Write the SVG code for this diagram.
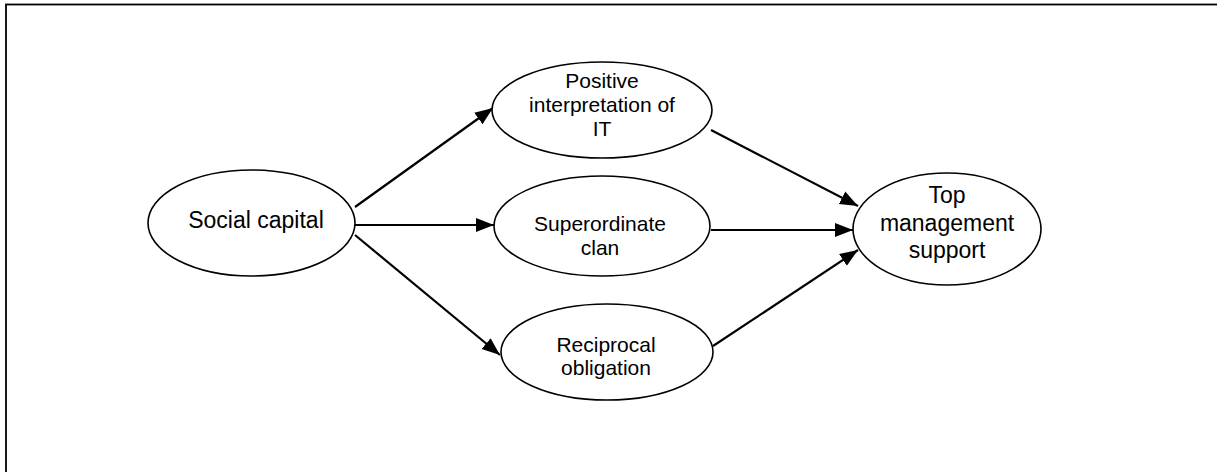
<svg xmlns="http://www.w3.org/2000/svg" width="1217" height="472" viewBox="0 0 1217 472">
<style>
.node ellipse{fill:#fff;stroke:#000;stroke-width:1.6}
.node text{font-family:"Liberation Sans",Arial,sans-serif;fill:#000;text-anchor:middle}
.big{font-size:23px}
.small{font-size:21px}
.conn line{stroke:#000;stroke-width:2.2}
</style>
<defs>
<marker id="arr" markerUnits="userSpaceOnUse" markerWidth="20" markerHeight="16" viewBox="0 0 20 16" refX="18" refY="8" orient="auto">
<path d="M0,1 L18,8 L0,15 Z" fill="#000"/>
</marker>
</defs>
<rect x="6" y="4.5" width="1230" height="480" fill="none" stroke="#000" stroke-width="1.8"/>
<g id="connectors" class="conn">
<line x1="355" y1="207" x2="493" y2="108" marker-end="url(#arr)"/>
<line x1="355" y1="225" x2="494" y2="225" marker-end="url(#arr)"/>
<line x1="355" y1="235" x2="500" y2="355" marker-end="url(#arr)"/>
<line x1="711" y1="130" x2="858" y2="206" marker-end="url(#arr)"/>
<line x1="711" y1="230" x2="853" y2="230" marker-end="url(#arr)"/>
<line x1="713" y1="346" x2="858" y2="250" marker-end="url(#arr)"/>
</g>
<g id="social-capital" class="node">
<ellipse cx="251.5" cy="223" rx="103.5" ry="53"/>
<text class="big" x="256" y="228">Social capital</text>
</g>
<g id="positive-interpretation" class="node">
<ellipse cx="602" cy="110" rx="110" ry="48"/>
<text class="small" x="602" y="88">Positive</text>
<text class="small" x="602" y="112">interpretation of</text>
<text class="small" x="602" y="136">IT</text>
</g>
<g id="superordinate-clan" class="node">
<ellipse cx="602" cy="226" rx="108" ry="50"/>
<text class="small" x="600" y="231">Superordinate</text>
<text class="small" x="600" y="255">clan</text>
</g>
<g id="reciprocal-obligation" class="node">
<ellipse cx="607" cy="352" rx="106" ry="48"/>
<text class="small" x="606" y="352">Reciprocal</text>
<text class="small" x="606" y="375">obligation</text>
</g>
<g id="top-management-support" class="node">
<ellipse cx="947" cy="229" rx="94" ry="56"/>
<text class="big" x="947" y="203">Top</text>
<text class="big" x="947" y="231">management</text>
<text class="big" x="947" y="258">support</text>
</g>
</svg>
